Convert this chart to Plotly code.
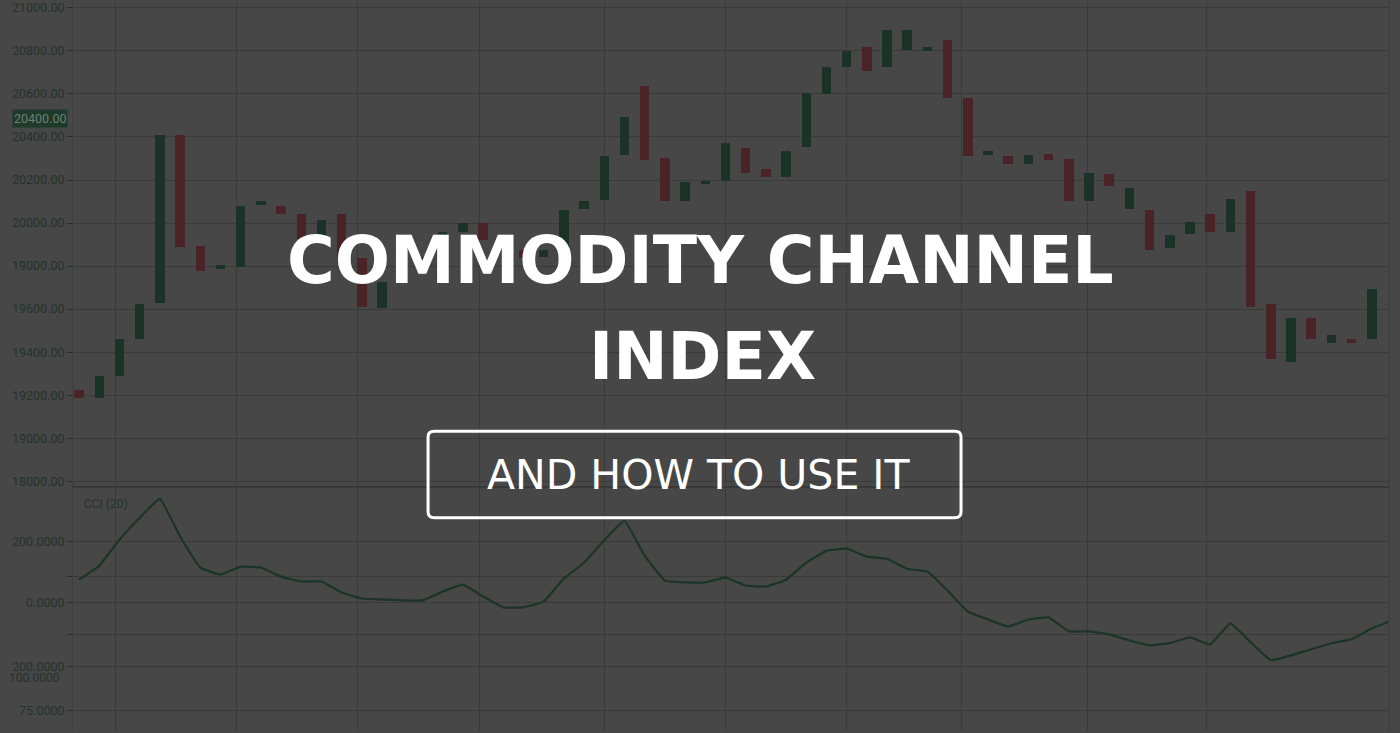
import plotly.graph_objects as go

# candle bodies (open, close); the chart shows no wicks
opens = [19222, 19185, 19291, 19463, 19630, 20407, 19893, 19787, 19796, 20083,
         20079, 20042, 19921, 20042, 19838, 19606, 19736, 19782, 19898, 19958,
         20000, 19921, 19875, 19843, 19852, 20065, 20106, 20315, 20639, 20301,
         20102, 20185, 20194, 20347, 20250, 20213, 20352, 20602, 20727, 20819,
         20727, 20806, 20801, 20852, 20579, 20315, 20310, 20273, 20319, 20296,
         20102, 20227, 20065, 20060, 19884, 19949, 20042, 19958, 20148, 19625,
         19356, 19560, 19444, 19463, 19463]
closes = [19185, 19287, 19463, 19625, 20407, 19889, 19778, 19806, 20079, 20102,
          20042, 19926, 20014, 19843, 19611, 19727, 19806, 19843, 19958, 20000,
          19921, 19875, 19838, 19875, 20060, 20102, 20310, 20495, 20292, 20102,
          20190, 20194, 20370, 20231, 20213, 20333, 20606, 20727, 20801, 20708,
          20898, 20898, 20819, 20583, 20310, 20333, 20273, 20315, 20292, 20102,
          20231, 20171, 20162, 19875, 19944, 20005, 19958, 20111, 19611, 19366,
          19560, 19463, 19481, 19444, 19694]

# CCI (20) line, one value per bar (plus one beyond the last bar)
cci = [75, 121, 207, 279, 341, 218, 115, 92, 118, 115,
       85, 69, 69, 33, 13, 10, 7, 7, 36, 59,
       20, -16, -16, 3, 79, 131, 205, 269, 154, 72,
       66, 66, 82, 56, 52, 75, 131, 170, 177, 151,
       144, 111, 102, 39, -30, -56, -79, -56, -49, -95,
       -95, -105, -125, -141, -134, -115, -138, -69, -131, -190,
       -174, -154, -134, -121, -85, -59]

price_ticks = [18800, 19000, 19200, 19400, 19600, 19800, 20000, 20200, 20400, 20600, 20800, 21000]
price_labels = ["18000.00", "19000.00", "19200.00", "19400.00", "19600.00", "19000.00",
                "20000.00", "20200.00", "20400.00", "20600.00", "20800.00", "21000.00"]
cci_ticks = [200, 85, 0, -105, -210, -355]
cci_labels = ["200.0000", "", "0.0000", "", "200.0000", "75.0000"]
x_grid = [1.8, 7.8, 13.8, 19.8, 26, 32, 38, 43.7, 49.9, 55.8]

BG = "#474747"
GRID = "#3a3a3a"
TXT = "#25332b"
GREEN = "#1a3326"
RED = "#4a2327"

idx = list(range(len(opens)))
base = [min(o, c) for o, c in zip(opens, closes)]
body = [abs(c - o) for o, c in zip(opens, closes)]
cols = [GREEN if c >= o else RED for o, c in zip(opens, closes)]

fig = go.Figure()
fig.add_trace(go.Bar(x=idx, y=body, base=base, width=0.47,
                     marker=dict(color=cols, line=dict(width=0)),
                     xaxis="x", yaxis="y", showlegend=False))
fig.add_trace(go.Scatter(x=list(range(len(cci))), y=cci, mode="lines",
                         line=dict(color="#1c3428", width=2.2, shape="spline", smoothing=0.3),
                         xaxis="x2", yaxis="y2", showlegend=False))

axis_common = dict(showgrid=True, gridcolor=GRID, gridwidth=1, zeroline=False)

fig.update_layout(
    width=1400, height=733,
    margin=dict(l=73, r=11, t=0, b=0),
    paper_bgcolor=BG, plot_bgcolor=BG,
    font=dict(family="Roboto", color=TXT, size=12),
    bargap=0,
    xaxis=dict(domain=[0, 1], anchor="y", range=[-0.3, 64.85], tickvals=x_grid,
               showticklabels=False, ticks="", **axis_common),
    xaxis2=dict(domain=[0, 1], anchor="y2", range=[-0.3, 64.85], tickvals=x_grid,
                showticklabels=False, ticks="", matches="x", **axis_common),
    yaxis=dict(domain=[0.3342, 1], range=[18773, 21032], tickvals=price_ticks,
               ticktext=price_labels, ticks="outside", ticklen=5, tickcolor=TXT,
               ticklabeloverflow="allow",
               showline=True, linecolor="#3d3d3d", tickfont=dict(size=12.5, color=TXT),
               **axis_common),
    yaxis2=dict(domain=[0, 0.3342], range=[-423, 380], tickvals=cci_ticks,
                ticktext=cci_labels, ticks="outside", ticklen=5, tickcolor=TXT,
                ticklabeloverflow="allow",
                showline=True, linecolor="#3d3d3d", tickfont=dict(size=12.5, color=TXT),
                **axis_common),
)

# panel separator and right border
fig.add_shape(type="line", xref="paper", yref="paper", x0=0, x1=1, y0=0.3342, y1=0.3342,
              line=dict(color="#383838", width=2))
fig.add_shape(type="line", xref="paper", yref="paper", x0=1, x1=1, y0=0, y1=1,
              line=dict(color="#3d3d3d", width=1))

# current price marker and small labels
fig.add_annotation(text="20400.00", xref="paper", yref="paper", x=-0.0251, y=0.839,
                   xanchor="center", yanchor="middle",
                   showarrow=False, bgcolor="#1d3a2b", font=dict(size=12.5, color="#6f7f75"),
                   borderpad=1)
fig.add_annotation(text="CCI (20)", xref="paper", yref="paper", x=0.0068, y=0.311,
                   xanchor="left", yanchor="middle", showarrow=False,
                   font=dict(size=12, color=TXT))
fig.add_annotation(text="100.0000", xref="paper", yref="y2", x=-0.0083, y=-250,
                   xanchor="right", yanchor="middle", showarrow=False,
                   font=dict(size=12, color=TXT))

# headline overlay
fig.add_annotation(text="<b>COMMODITY CHANNEL</b>", xref="paper", yref="paper",
                   x=0.4765, y=0.644, showarrow=False,
                   font=dict(family="DejaVu Sans", size=65, color="white"))
fig.add_annotation(text="<b>INDEX</b>", xref="paper", yref="paper",
                   x=0.478, y=0.513, showarrow=False,
                   font=dict(family="DejaVu Sans", size=65, color="white"))
fig.add_annotation(text="AND HOW TO USE IT", xref="paper", yref="paper",
                   x=0.475, y=0.3506, showarrow=False,
                   font=dict(family="DejaVu Sans", size=41, color="white"))


def rounded_rect(x0, y0, x1, y1, rx, ry):
    return (f"M {x0+rx},{y0} L {x1-rx},{y0} Q {x1},{y0} {x1},{y0+ry} "
            f"L {x1},{y1-ry} Q {x1},{y1} {x1-rx},{y1} L {x0+rx},{y1} "
            f"Q {x0},{y1} {x0},{y1-ry} L {x0},{y0+ry} Q {x0},{y0} {x0+rx},{y0} Z")


fig.add_shape(type="path", xref="paper", yref="paper",
              path=rounded_rect(0.2698, 0.2920, 0.6748, 0.4106, 0.0046, 0.0082),
              line=dict(color="white", width=3))

# drop the page's default body margin so the chart sits flush in the window
fig.write_html("out.html", config={"displayModeBar": False},
               post_script="document.body.style.margin='0';")
